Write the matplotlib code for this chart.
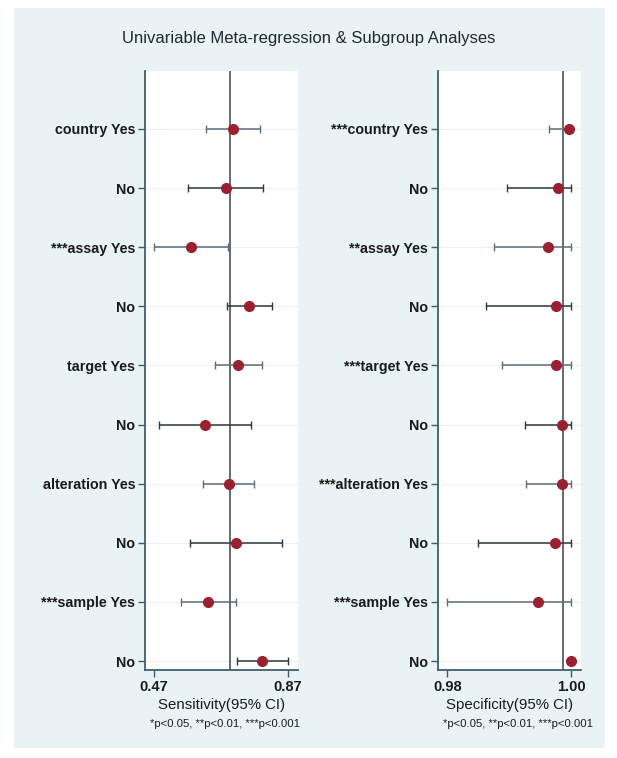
#!/usr/bin/env python3
'''forest-style subgroup plot of sensitivity and specificity'''
import numpy as np
import matplotlib
matplotlib.use('Agg')
import matplotlib.pyplot as plt
from matplotlib.patches import Rectangle

# rows listed top to bottom
sens_labels = ['country Yes', 'No', '***assay Yes', 'No', 'target Yes', 'No',
               'alteration Yes', 'No', '***sample Yes', 'No']
spec_labels = ['***country Yes', 'No', '**assay Yes', 'No', '***target Yes',
               'No', '***alteration Yes', 'No', '***sample Yes', 'No']

sens = [0.706, 0.684, 0.580, 0.755, 0.722, 0.622, 0.694, 0.715, 0.632, 0.793]
sens_lo = [0.625, 0.571, 0.471, 0.689, 0.652, 0.485, 0.615, 0.577, 0.551, 0.717]
sens_hi = [0.786, 0.796, 0.690, 0.821, 0.791, 0.760, 0.769, 0.853, 0.714, 0.869]
sens_pooled = 0.697

spec = [0.9996, 0.9979, 0.9963, 0.9975, 0.9976, 0.9985, 0.9985, 0.9974,
        0.9946, 1.0]
spec_lo = [0.9965, 0.9896, 0.9876, 0.9863, 0.9888, 0.9925, 0.9927, 0.9850,
           0.9800, 1.0]
spec_hi = [1.0, 1.0, 1.0, 1.0, 1.0, 1.0, 1.0, 1.0, 1.0, 1.0]
spec_pooled = 0.9987

plt.rcParams['font.family'] = ['Liberation Sans', 'DejaVu Sans']

BG = '#e9f2f4'
AXIS = '#3f5e6c'
DOT = '#9b2131'


def panel(ax, est, lo, hi, pooled, labels, xlim, xticks, xticklabels, xlabel):
    n = len(est)
    y = np.arange(n)[::-1]
    ax.set_facecolor('white')
    for yi in y:
        ax.axhline(yi, color='#f1eded', lw=0.8, zorder=0)
    ax.axvline(pooled, color='#3a4448', lw=1.1, zorder=1)
    for i in range(n):
        col = '#5a6f7a' if 'Yes' in labels[i] else '#2b383e'
        err = [[est[i] - lo[i]], [hi[i] - est[i]]]
        ax.errorbar(est[i], y[i], xerr=err, fmt='none', ecolor=col,
                    elinewidth=1.1, capsize=2.8, capthick=1.0, zorder=2)
    ax.plot(est, y, 'o', color=DOT, ms=7, zorder=3)
    ax.set_xlim(*xlim)
    ax.set_ylim(-0.15, n - 1 + 0.98)
    ax.set_yticks(y)
    ax.set_yticklabels(labels, fontsize=10.3, fontweight='bold',
                       color='#1b1b1b')
    ax.set_xticks(xticks)
    ax.set_xticklabels(xticklabels, fontsize=10.5, fontweight='bold',
                       color='#1b1b1b')
    ax.set_xlabel(xlabel, fontsize=10.8, color='#1b1b1b', labelpad=3)
    for side in ['top', 'right']:
        ax.spines[side].set_visible(False)
    for side in ['left', 'bottom']:
        ax.spines[side].set_color(AXIS)
        ax.spines[side].set_linewidth(1.3)
    ax.tick_params(axis='both', colors=AXIS, length=5, width=1.0, pad=2)
    ax.tick_params(axis='both', labelcolor='#1b1b1b')


fig = plt.figure(figsize=(6.17, 7.58), dpi=100)
fig.patch.set_facecolor('white')
fig.patches.append(Rectangle((14 / 617, 1 - 748 / 758), 591 / 617, 740 / 758,
                             transform=fig.transFigure, facecolor=BG,
                             edgecolor='none', zorder=-10))

ax1 = fig.add_axes([145 / 617, 1 - 670 / 758, 153 / 617, 599 / 758])
ax2 = fig.add_axes([438 / 617, 1 - 670 / 758, 143 / 617, 599 / 758])

panel(ax1, sens, sens_lo, sens_hi, sens_pooled, sens_labels,
      (0.443, 0.90), [0.47, 0.87], ['0.47', '0.87'], 'Sensitivity(95% CI)')
panel(ax2, spec, spec_lo, spec_hi, spec_pooled, spec_labels,
      (0.9785, 1.0016), [0.98, 1.00], ['0.98', '1.00'], 'Specificity(95% CI)')

fig.text(309 / 617, 1 - 39 / 758,
         'Univariable Meta-regression & Subgroup Analyses',
         ha='center', va='center', fontsize=12, color='#1e2a30')
note = '*p<0.05, **p<0.01, ***p<0.001'
fig.text(225 / 617, 1 - 724 / 758, note, ha='center', va='center',
         fontsize=8.2, color='#1b1b1b')
fig.text(518 / 617, 1 - 724 / 758, note, ha='center', va='center',
         fontsize=8.2, color='#1b1b1b')

fig.savefig('out.png', dpi=100, facecolor=fig.get_facecolor())
